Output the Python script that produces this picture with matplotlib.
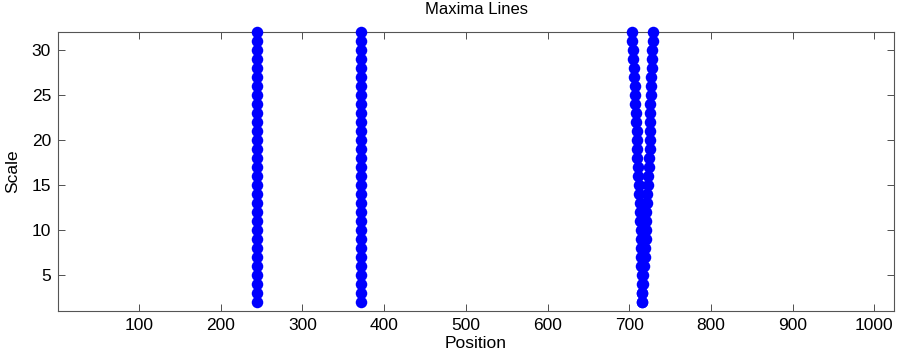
import matplotlib
matplotlib.use('Agg')
import matplotlib.pyplot as plt
import numpy as np

plt.rcParams['font.family'] = ['Liberation Sans', 'DejaVu Sans']

# scales (2..32) and maxima position of each line at each scale
scales = list(range(2, 33))
line1 = [244] * 31
line2 = [372] * 31
line3 = [716, 716, 716, 716, 715, 715, 715, 714, 714, 713, 713, 713, 712, 712,
         711, 711, 710, 710, 709, 709, 708, 708, 707, 707, 707, 706, 706, 705,
         705, 704, 704]
line4 = [716, 716, 717, 717, 718, 719, 719, 720, 720, 721, 721, 722, 722, 723,
         723, 724, 724, 725, 725, 725, 726, 726, 726, 727, 727, 727, 728, 728,
         728, 729, 729]

fig = plt.figure(figsize=(8.97, 3.63), dpi=100)
ax = fig.add_axes([58/897, 52/363, 836/897, 279/363])

for xs in (line1, line2, line3, line4):
    ax.plot(xs, scales, 'o', color='#0000ff', markersize=8.3, markeredgewidth=0,
            clip_on=False, zorder=3)

ax.set_xlim(1, 1024)
ax.set_ylim(1, 32)
ax.set_xticks(range(100, 1001, 100))
ax.set_yticks(range(5, 31, 5))
ax.tick_params(direction='in', top=True, right=True, labelsize=12.5, length=5,
               width=0.6, color='#333333', pad=5)
for s in ax.spines.values():
    s.set_linewidth(0.8)
    s.set_color('#555555')

ax.set_title('Maxima Lines', fontsize=12, pad=13)
ax.set_xlabel('Position', fontsize=12.5, labelpad=2)
ax.set_ylabel('Scale', fontsize=12.5, labelpad=8)

fig.savefig('out.png', dpi=100)
